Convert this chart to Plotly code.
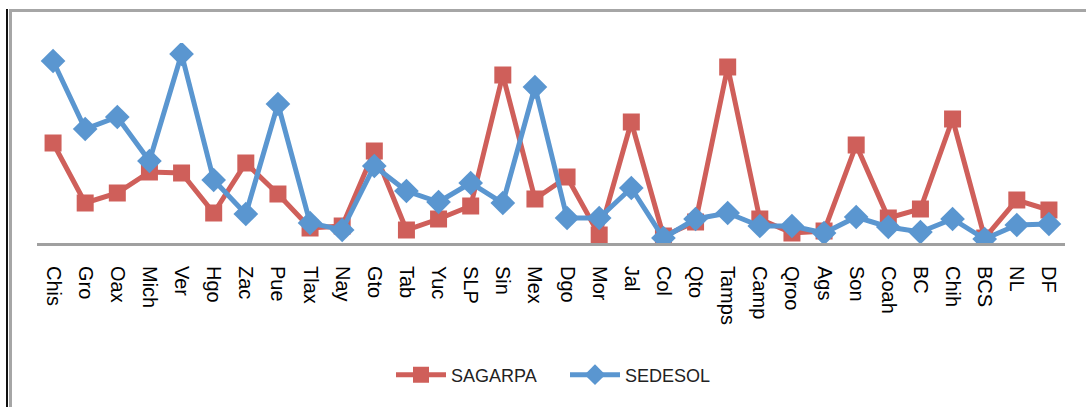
import plotly.graph_objects as go

states = ["Chis", "Gro", "Oax", "Mich", "Ver", "Hgo", "Zac", "Pue", "Tlax", "Nay",
          "Gto", "Tab", "Yuc", "SLP", "Sin", "Mex", "Dgo", "Mor", "Jal", "Col",
          "Qto", "Tamps", "Camp", "Qroo", "Ags", "Son", "Coah", "BC", "Chih", "BCS",
          "NL", "DF"]
sagarpa = [100, 40, 50, 71, 70, 30, 80, 49, 15, 17,
           92, 13, 24, 37, 168, 44, 66, 8, 121, 7,
           21, 176, 24, 10, 12, 98, 25, 34, 124, 5,
           43, 33]
sedesol = [182, 114, 126, 82, 189, 63, 29, 139, 20, 13,
           77, 52, 41, 60, 40, 156, 25, 25, 55, 5,
           24, 30, 17, 17, 10, 26, 16, 11, 24, 4,
           18, 19]

RED = "#CF5F5A"
BLUE = "#5A96D0"

fig = go.Figure()
fig.add_trace(go.Scatter(
    x=states, y=sagarpa, name="SAGARPA", mode="lines+markers",
    line=dict(color=RED, width=5),
    marker=dict(symbol="square", size=17, color=RED),
))
fig.add_trace(go.Scatter(
    x=states, y=sedesol, name="SEDESOL", mode="lines+markers",
    line=dict(color=BLUE, width=5),
    marker=dict(symbol="diamond", size=19, color=BLUE),
))

W, H = 1086, 407
L, R, T, B = 37, 21, 43, 164
pw = W - L - R
ph = H - T - B

def px(xp):
    return (xp - L) / pw

def py(yp):
    return (H - B - yp) / ph

shapes = [
    dict(type="line", xref="paper", yref="paper", x0=px(7), x1=px(7), y0=py(9), y1=py(H + 5),
         line=dict(color="#111111", width=2)),
    dict(type="line", xref="paper", yref="paper", x0=px(10.5), x1=px(10.5), y0=py(10), y1=py(H + 5),
         line=dict(color="#A6A6A6", width=3)),
    dict(type="line", xref="paper", yref="paper", x0=px(9), x1=px(W + 5), y0=py(10.5), y1=py(10.5),
         line=dict(color="#A6A6A6", width=3)),
]

fig.update_layout(
    width=W, height=H,
    margin=dict(l=L, r=R, t=T, b=B),
    paper_bgcolor="white", plot_bgcolor="white",
    font=dict(family="Liberation Sans, Arial, sans-serif", size=15, color="black"),
    showlegend=True,
    legend=dict(orientation="h", x=px(391), xanchor="left", y=py(375), yanchor="middle",
                font=dict(size=18, color="#222222"), itemwidth=50,
                entrywidth=109, entrywidthmode="pixels"),
    shapes=shapes,
    xaxis=dict(type="category", range=[-0.5, len(states) - 0.5], tickangle=90,
               showline=True, linecolor="#A0A0A0", linewidth=3,
               ticks="outside", ticklen=16, tickcolor="rgba(0,0,0,0)",
               showgrid=False, zeroline=False, tickfont=dict(size=20, color="black")),
    yaxis=dict(range=[0, 200], showticklabels=False, showgrid=False, zeroline=False,
               showline=False, ticks=""),
)

fig.write_html("out.html", config={"displayModeBar": False},
               post_script="document.body.style.margin='0';document.body.style.overflow='hidden';")
